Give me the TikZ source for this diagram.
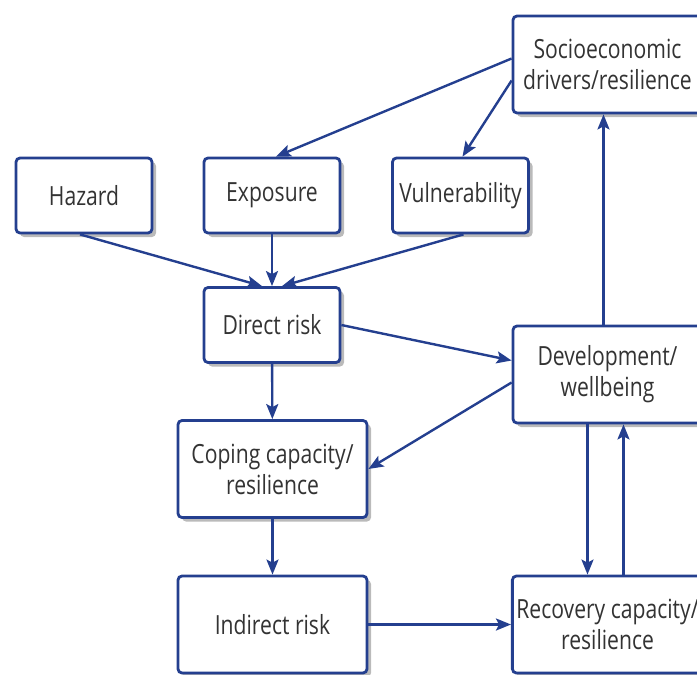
\documentclass[tikz,border=0pt]{standalone}
\usepackage{fontspec}
\setmainfont{Open Sans}[FakeStretch=0.8]
\usepackage{tikz}
\usetikzlibrary{arrows.meta, shadows}
\definecolor{flowblue}{HTML}{243F8F}
\definecolor{flowink}{HTML}{333333}

\begin{document}
\begin{tikzpicture}[
  x=0.5pt, y=-0.5pt,
  blockbox/.style={draw=flowblue, line width=1.4pt, rounded corners=2pt, fill=white, align=center, text=flowink, font=\fontsize{13.2}{15.5}\selectfont, inner sep=2pt, drop shadow={shadow xshift=2pt, shadow yshift=-2pt, opacity=0.45, fill=black!60}},
  small/.style={blockbox, minimum width=68pt, minimum height=37.5pt},
  wide/.style={blockbox, minimum width=94.5pt, minimum height=48.5pt},
  arr/.style={-{Stealth[length=7.5pt, width=6pt, inset=1.5pt]}, line width=1.2pt, flowblue}
]
  \clip (0,0) rectangle (697,675);
  \useasboundingbox (0,0) rectangle (697,675);

  \node[wide] (socio) at (607.5,64.5) {Socioeconomic \\ drivers/resilience};

  \node[small] (hazard) at (84,195.5) {Hazard};
  \node[small] (expo) at (272,195.5) {Exposure};
  \node[small] (vuln) at (460.5,195.5) {Vulnerability};

  \node[small] (direct) at (272,325) {Direct risk};
  \node[wide] (devel) at (607.5,374.5) {Development/ \\ wellbeing};

  \node[wide] (coping) at (272.5,469) {Coping capacity/ \\ resilience};

  \node[wide] (indirect) at (272.5,624.5) {Indirect risk};
  \node[wide] (recov) at (607.5,624.5) {Recovery capacity/ \\ resilience};

  \draw[arr] ([yshift=3pt]socio.west) -- ([xshift=2pt]expo.north);
  \draw[arr] ([yshift=-8pt]socio.west) -- ([xshift=1pt]vuln.north);
  \draw[arr] ([xshift=-2pt]hazard.south) -- ([xshift=-5pt]direct.north);
  \draw[arr] (expo) -- (direct);
  \draw[arr] ([xshift=1.5pt]vuln.south) -- ([xshift=5pt]direct.north);
  \draw[arr] (direct.east) -- ([yshift=7pt]devel.west);
  \draw[arr] ([yshift=-4pt]devel.west) -- (coping.east);
  \draw[arr] (direct) -- (coping);
  \draw[arr] (coping) -- (indirect);
  \draw[arr] (indirect) -- (recov);
  \draw[arr] ([xshift=-10pt]devel.south) -- ([xshift=-10pt]recov.north);
  \draw[arr] ([xshift=8pt]recov.north) -- ([xshift=8pt]devel.south);
  \draw[arr] ([xshift=-2pt]devel.north) -- ([xshift=-2pt]socio.south);
\end{tikzpicture}
\end{document}
